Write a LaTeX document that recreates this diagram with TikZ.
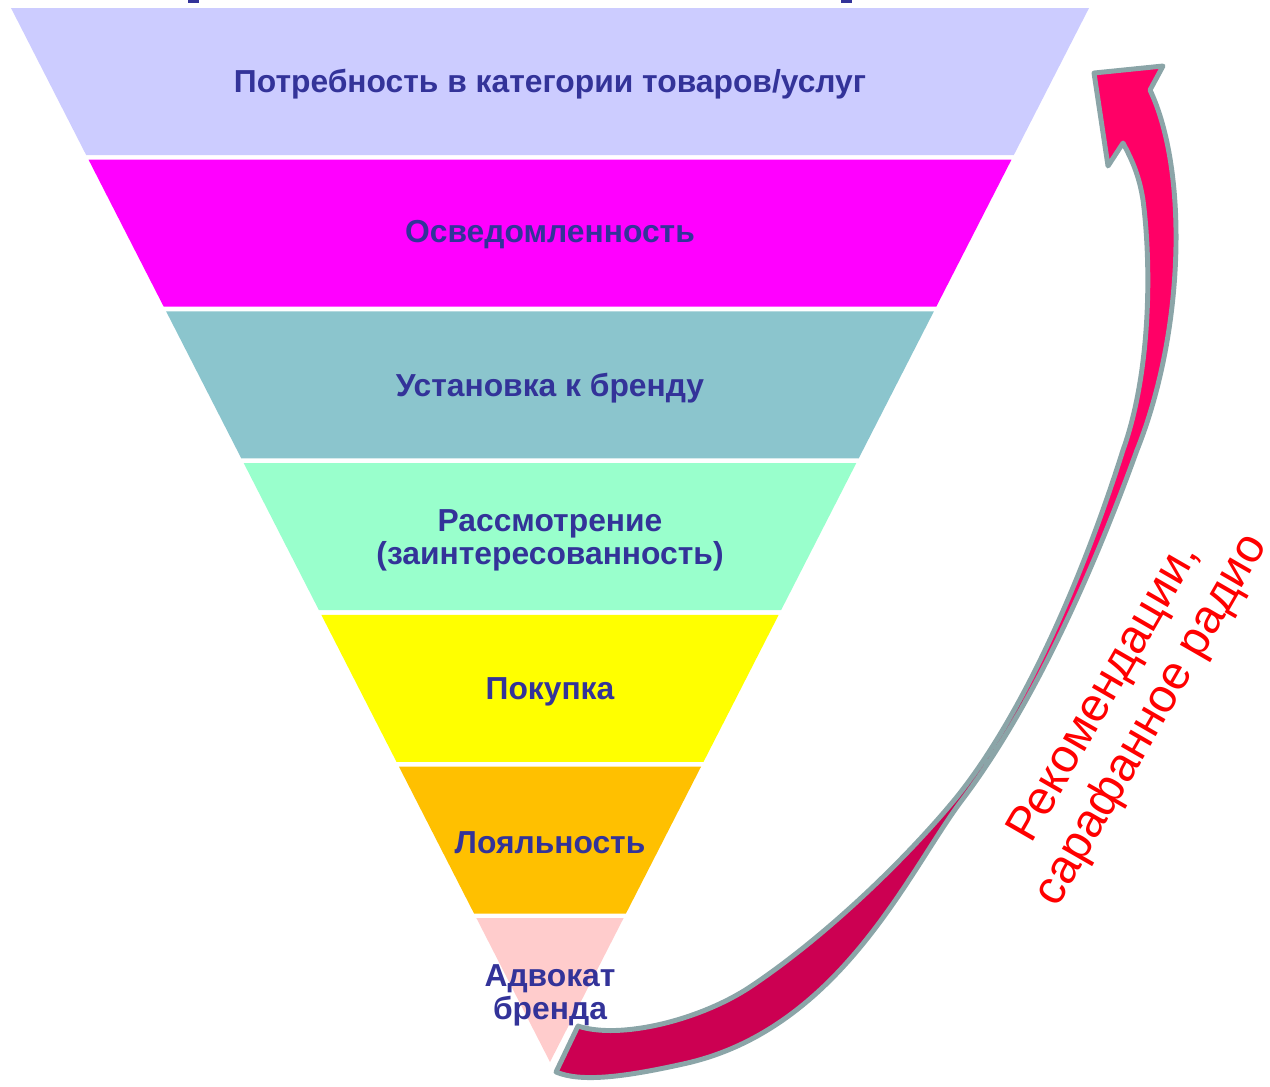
\documentclass[tikz,border=0pt]{standalone}
\usepackage{fontspec}
\setmainfont{Liberation Sans}
\usepackage{tikz}
\usepackage{xcolor}

\definecolor{bandA}{HTML}{CCCCFF}
\definecolor{bandB}{HTML}{FF00FF}
\definecolor{bandC}{HTML}{8BC5CD}
\definecolor{bandD}{HTML}{99FFCC}
\definecolor{bandE}{HTML}{FFFF00}
\definecolor{bandF}{HTML}{FFC000}
\definecolor{bandG}{HTML}{FFCCCC}
\definecolor{stageText}{HTML}{333399}
\definecolor{ribbonTop}{HTML}{FF0066}
\definecolor{ribbonBot}{HTML}{CC0052}
\definecolor{ribbonEdge}{HTML}{8BA5A8}
\definecolor{womRed}{HTML}{FF0000}

\begin{document}
\begin{tikzpicture}[x=0.02cm, y=-0.02cm,
    stage/.style={font=\fontsize{18.1}{18.7}\selectfont\bfseries, text=stageText, align=center},
    wom/.style={font=\fontsize{27}{31}\selectfont, text=womRed, align=center, rotate=60},
    ribbon/.style={draw=ribbonEdge, line width=2.8pt, line join=round, fill=ribbonTop}]

    \useasboundingbox (0,0) rectangle (1270,1086);

    % Funnel bands, apex at (550,1062)
    \foreach \col [count=\i from 0] in {bandA,bandB,bandC,bandD,bandE,bandF,bandG}{
        \pgfmathsetmacro\yt{8+151.7*\i}
        \pgfmathsetmacro\yb{min(\yt+147,1062)}
        \pgfmathsetmacro\wt{0.5114*(1062-\yt)}
        \pgfmathsetmacro\wb{0.5114*(1062-\yb)}
        \fill[\col] (550-\wt,\yt) -- (550+\wt,\yt) -- (550+\wb,\yb) -- (550-\wb,\yb) -- cycle;
    }

    % Cut-off marks at the top edge
    \fill[stageText] (188,0) rectangle (199,2.5);
    \fill[stageText] (841,0) rectangle (852,2.5);

    % Stage labels
    \node[stage] (need)     at (550,84)  {Потребность в категории товаров/услуг};
    \node[stage] (aware)    at (550,235) {Осведомленность};
    \node[stage] (attitude) at (550,388) {Установка к бренду};
    \node[stage] (consider) at (550,540) {Рассмотрение\\(заинтересованность)};
    \node[stage] (purchase) at (550,692) {Покупка};
    \node[stage] (loyalty)  at (550,843) {Лояльность};
    \node[stage] (advocate) at (550,995) {Адвокат\\бренда};

    % Curved ribbon arrow back to the top
    \draw[ribbon, path picture={\fill[ribbonBot] (0,700) rectangle (1270,1086);}]
        (1094,73) -- (1163,66) -- (1150,90)
        .. controls (1188,170) and (1185,330) .. (1137,450)
        .. controls (1090,580) and (1030,710) .. (962,800)
        .. controls (909,870) and (840,1030) .. (683,1064)
        .. controls (620,1078) and (580,1082) .. (556,1072)
        -- (578,1026)
        .. controls (620,1040) and (700,1020) .. (750,987)
        .. controls (825,937) and (905,860) .. (956,798)
        .. controls (1022,716) and (1082,580) .. (1123,450)
        .. controls (1150,375) and (1152,270) .. (1143,200)
        .. controls (1139,175) and (1132,160) .. (1123,143)
        -- (1108,166) -- cycle;

    % Word of mouth label
    \node[wom] (wom) at (1129,707) {Рекомендации,\\сарафанное радио};
\end{tikzpicture}
\end{document}
